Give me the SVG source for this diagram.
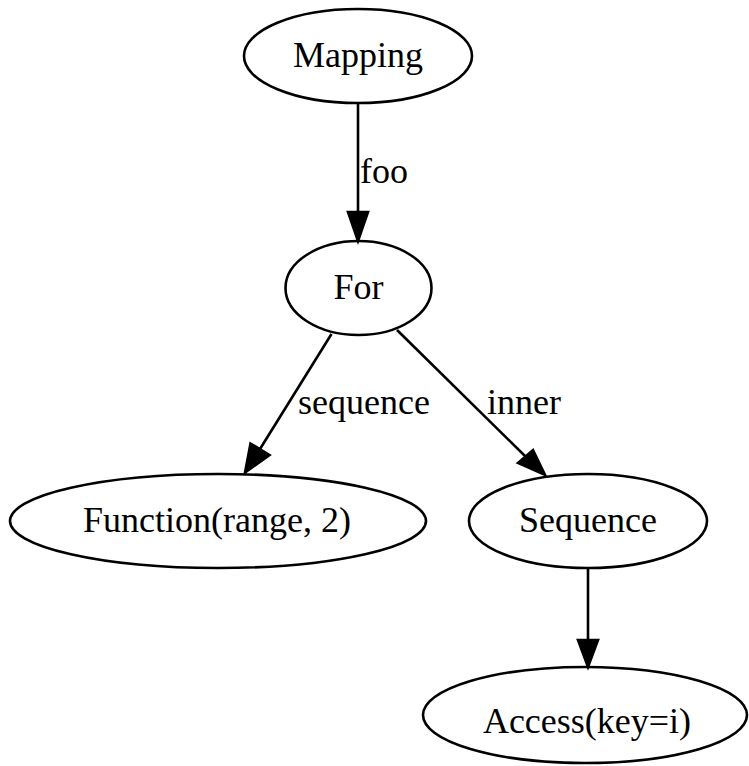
<svg xmlns="http://www.w3.org/2000/svg" width="749" height="766" viewBox="0 0 749 766">
  <defs>
    <style>
      .node ellipse { fill: none; stroke: #000; stroke-width: 2.6; }
      .lbl { font-family: "Liberation Serif", "Times New Roman", serif; font-size: 36px; fill: #000; }
      .mid { text-anchor: middle; }
      .edge line { stroke: #000; stroke-width: 2.6; }
      .edge polygon { fill: #000; stroke: #000; stroke-width: 2.6; stroke-linejoin: miter; }
    </style>
  </defs>
  <rect width="749" height="766" fill="#fff"/>

  <g id="edges">
    <g class="edge" id="e-mapping-for">
      <line x1="358" y1="103" x2="358" y2="212"/>
      <polygon points="348,212 368,212 358,241"/>
      <text class="lbl" x="360" y="183">foo</text>
    </g>
    <g class="edge" id="e-for-function">
      <line x1="331.5" y1="334" x2="260" y2="449"/>
      <polygon points="250.5,443.5 269.5,455 245,472.5"/>
      <text class="lbl" x="298" y="414">sequence</text>
    </g>
    <g class="edge" id="e-for-sequence">
      <line x1="397" y1="330" x2="525.5" y2="456.5"/>
      <polygon points="518,463 533,450 545,475"/>
      <text class="lbl" x="487" y="414">inner</text>
    </g>
    <g class="edge" id="e-sequence-access">
      <line x1="588" y1="568" x2="588" y2="640"/>
      <polygon points="578,640 598,640 588,667"/>
    </g>
  </g>

  <g class="node" id="n-mapping">
    <ellipse cx="358" cy="56" rx="114" ry="47"/>
    <text class="lbl mid" x="358" y="67">Mapping</text>
  </g>
  <g class="node" id="n-for">
    <ellipse cx="358.5" cy="288" rx="73" ry="47"/>
    <text class="lbl mid" x="358.5" y="299">For</text>
  </g>
  <g class="node" id="n-function">
    <ellipse cx="218" cy="521" rx="208" ry="47"/>
    <text class="lbl mid" x="217" y="532">Function(range, 2)</text>
  </g>
  <g class="node" id="n-sequence">
    <ellipse cx="588" cy="521" rx="119" ry="47"/>
    <text class="lbl mid" x="588" y="532">Sequence</text>
  </g>
  <g class="node" id="n-access">
    <ellipse cx="585" cy="715" rx="162" ry="48"/>
    <text class="lbl mid" x="587" y="733">Access(key=i)</text>
  </g>
</svg>
